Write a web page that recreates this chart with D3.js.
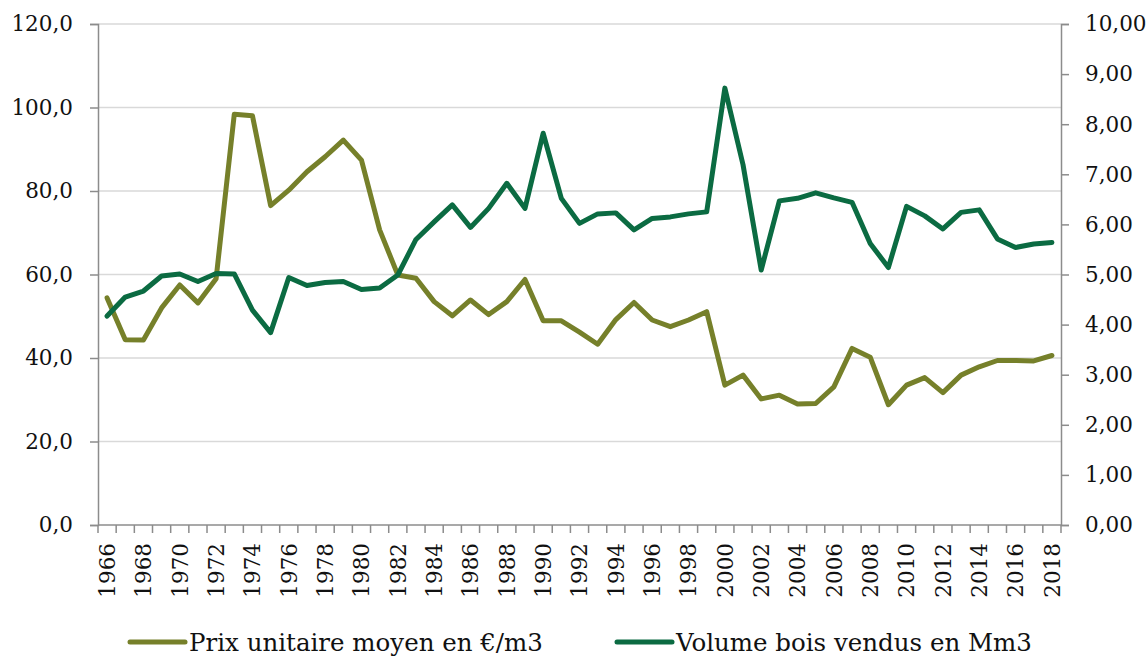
<!DOCTYPE html>
<html>
<head>
<meta charset="utf-8">
<script src="https://cdn.jsdelivr.net/npm/d3@7"></script>
<style>
  body { margin: 0; background: #fff; }
  text { font-family: "DejaVu Serif", serif; fill: #111; }
</style>
</head>
<body>
<div id="vis"></div>
<script>
// data
const years = d3.range(1966, 2019);
const prix = [54.4, 44.4, 44.3, 52.0, 57.5, 53.2, 59.0, 98.4, 98.0, 76.5, 80.2, 84.6, 88.2, 92.2, 87.4, 70.7,
  59.9, 59.1, 53.5, 50.1, 53.9, 50.4, 53.5, 58.8, 48.9, 48.9, 46.2, 43.3, 49.2, 53.3, 49.1, 47.5, 49.1, 51.1,
  33.5, 35.9, 30.2, 31.1, 29.0, 29.1, 33.1, 42.3, 40.2, 28.8, 33.5, 35.3, 31.7, 35.9, 37.9, 39.4, 39.4, 39.3, 40.6];
const volume = [4.17, 4.55, 4.67, 4.97, 5.01, 4.86, 5.02, 5.01, 4.29, 3.84, 4.94, 4.78, 4.84, 4.86, 4.70, 4.73,
  4.99, 5.70, 6.05, 6.39, 5.94, 6.32, 6.82, 6.32, 7.82, 6.52, 6.02, 6.21, 6.23, 5.89, 6.12, 6.15, 6.21, 6.25,
  8.72, 7.19, 5.09, 6.47, 6.52, 6.63, 6.53, 6.44, 5.62, 5.14, 6.36, 6.17, 5.91, 6.24, 6.29, 5.71, 5.54, 5.61, 5.64];
const leftTicks = [0, 20, 40, 60, 80, 100, 120];
const rightTicks = [0, 1, 2, 3, 4, 5, 6, 7, 8, 9, 10];
const seriesNames = ["Prix unitaire moyen en €/m3", "Volume bois vendus en Mm3"];
const colors = ["#76802A", "#0B6B42"];

const W = 1148, H = 657;
const margin = { top: 24, right: 87, bottom: 132, left: 98 };
const width = W - margin.left - margin.right;
const height = H - margin.top - margin.bottom;

const svg = d3.select("#vis").append("svg").attr("width", W).attr("height", H);
const g = svg.append("g").attr("transform", `translate(${margin.left},${margin.top})`);

const x = d3.scaleBand().domain(years).range([0, width]).padding(0);
const yL = d3.scaleLinear().domain([0, 120]).range([height, 0]);
const yR = d3.scaleLinear().domain([0, 10]).range([height, 0]);
const fr1 = (d) => d3.format(".1f")(d).replace(".", ",");
const fr2 = (d) => d3.format(".2f")(d).replace(".", ",");

// gridlines
g.selectAll(".grid")
  .data(leftTicks.slice(1))
  .join("line")
  .attr("class", "grid")
  .attr("x1", 0)
  .attr("x2", width)
  .attr("y1", (d) => yL(d))
  .attr("y2", (d) => yL(d))
  .attr("stroke", "#d9d9d9")
  .attr("stroke-width", 1.5);

// left axis
const leftAxis = g.append("g").call(d3.axisLeft(yL).tickValues(leftTicks).tickSize(8).tickPadding(17).tickFormat(fr1));
// right axis
const rightAxis = g.append("g").attr("transform", `translate(${width},0)`)
  .call(d3.axisRight(yR).tickValues(rightTicks).tickSize(8).tickPadding(16).tickFormat(fr2));

[leftAxis, rightAxis].forEach((a) => {
  a.select(".domain").attr("stroke", "#8c8c8c").attr("stroke-width", 1.5);
  a.selectAll(".tick line").attr("stroke", "#8c8c8c").attr("stroke-width", 1.5);
  a.selectAll("text").attr("font-size", 21.5).attr("font-family", "DejaVu Serif").attr("fill", "#111");
});

// bottom axis: ticks between categories
const xAxisG = g.append("g").attr("transform", `translate(0,${height})`);
xAxisG.append("line").attr("x1", 0).attr("x2", width).attr("stroke", "#8c8c8c").attr("stroke-width", 1.5);
xAxisG.selectAll(".xtick")
  .data(years.concat([null]))
  .join("line")
  .attr("class", "xtick")
  .attr("x1", (d) => (d === null ? width : x(d)))
  .attr("x2", (d) => (d === null ? width : x(d)))
  .attr("y1", 0)
  .attr("y2", 8)
  .attr("stroke", "#8c8c8c")
  .attr("stroke-width", 1.5);
xAxisG.selectAll(".xlabel")
  .data(years.filter((d) => d % 2 === 0))
  .join("text")
  .attr("class", "xlabel")
  .attr("transform", (d) => `translate(${x(d) + x.bandwidth() / 2},18) rotate(-90)`)
  .attr("text-anchor", "end")
  .attr("dy", "0.36em")
  .attr("font-size", 21.5)
  .text((d) => d);

// lines
const linePrix = d3.line().x((d, i) => x(years[i]) + x.bandwidth() / 2).y((d) => yL(d));
const lineVol = d3.line().x((d, i) => x(years[i]) + x.bandwidth() / 2).y((d) => yR(d));

g.append("path").datum(prix).attr("d", linePrix)
  .attr("fill", "none").attr("stroke", colors[0]).attr("stroke-width", 5)
  .attr("stroke-linejoin", "round").attr("stroke-linecap", "round");
g.append("path").datum(volume).attr("d", lineVol)
  .attr("fill", "none").attr("stroke", colors[1]).attr("stroke-width", 5)
  .attr("stroke-linejoin", "round").attr("stroke-linecap", "round");

// legend
const legendX = [130, 617];
const legend = svg.append("g");
const items = legend.selectAll("g").data(seriesNames).join("g")
  .attr("transform", (d, i) => `translate(${legendX[i]},642)`);
items.append("line").attr("x1", 0).attr("x2", 55)
  .attr("stroke", (d, i) => colors[i]).attr("stroke-width", 5).attr("stroke-linecap", "round");
items.append("text").attr("x", 59).attr("dy", "0.36em")
  .attr("font-size", 24.5).text((d) => d);
</script>
</body>
</html>
